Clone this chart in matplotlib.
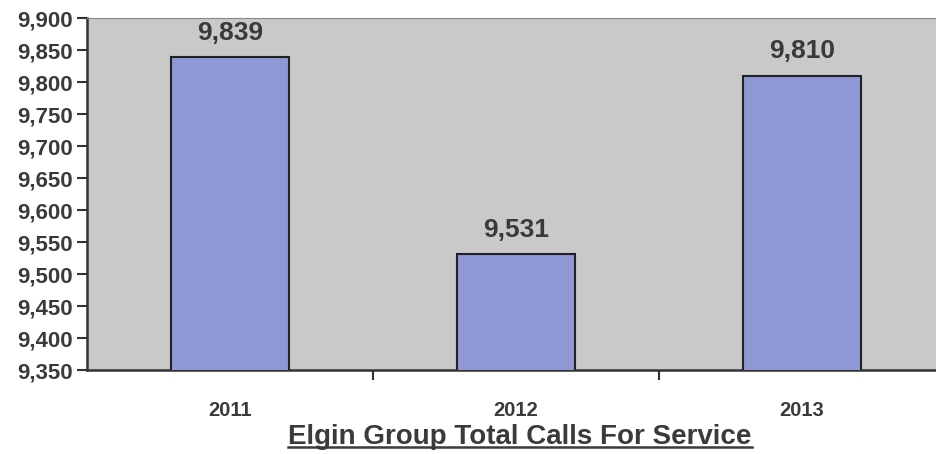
import matplotlib
matplotlib.use("Agg")
import matplotlib.pyplot as plt
from matplotlib.lines import Line2D

years = ["2011", "2012", "2013"]
calls = [9839, 9531, 9810]
yticks = list(range(9350, 9901, 50))
title = "Elgin Group Total Calls For Service"

plt.rcParams['font.family'] = ['Liberation Sans', 'DejaVu Sans']
txt = '#3a3a3a'

fig = plt.figure(figsize=(9.37, 4.54), dpi=100)
ax = fig.add_axes([87/937, 1 - 370/454, (945-87)/937, (370-18)/454])
ax.set_facecolor('#c9c9c9')
x = list(range(len(years)))
bars = ax.bar(x, calls, width=0.41, color='#8f97d4', edgecolor='#222222', linewidth=1.5, zorder=3)
ax.set_xlim(-0.5, 2.5)
ax.set_ylim(9350, 9900)
ax.set_yticks(yticks)
ax.set_yticklabels([f"{v:,}" for v in yticks], fontsize=16, fontweight='bold', color=txt)
ax.set_xticks(x)
ax.set_xticklabels(years, fontsize=14.5, fontweight='bold', color=txt)
ax.tick_params(axis='x', length=0, pad=22)
ax.set_xticks([0.5, 1.5], minor=True)
ax.tick_params(axis='x', which='minor', length=7, width=1.5, color='#333333', direction='out')
ax.tick_params(axis='y', length=7, width=1.5, color='#333333', pad=3)
for s in ['left', 'bottom']:
    ax.spines[s].set_color('#333333')
    ax.spines[s].set_linewidth(1.8)
ax.spines['top'].set_color('#888888')
ax.spines['top'].set_linewidth(0.8)
ax.spines['right'].set_visible(False)

for xi, v in zip(x, calls):
    ax.annotate(f"{v:,}", (xi, v), xytext=(0, 9), textcoords='offset points',
                ha='center', va='bottom', fontsize=19, fontweight='bold', color=txt)

t = fig.text(520/937, 1 - 437/454, title, ha='center', va='center',
             fontsize=20, fontweight='bold', color=txt)
fig.canvas.draw()
bb = t.get_window_extent().transformed(fig.transFigure.inverted())
yl = bb.y0 + 0.006
fig.add_artist(Line2D([bb.x0, bb.x1], [yl, yl], color=txt, linewidth=1.8, transform=fig.transFigure))

fig.savefig("out.png", dpi=100)
